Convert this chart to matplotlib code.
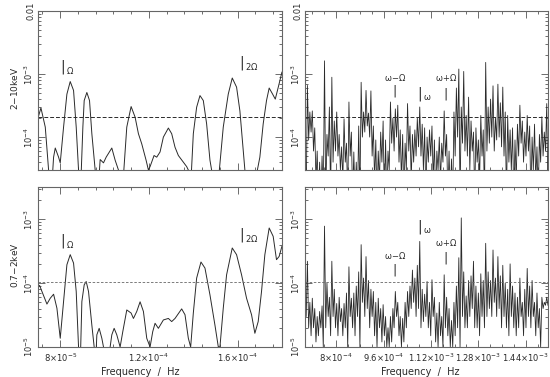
import matplotlib
matplotlib.use('Agg')
import matplotlib.pyplot as plt
import numpy as np
from matplotlib.ticker import FixedLocator, FixedFormatter, MultipleLocator, LogLocator, NullFormatter

# ---- low-frequency panels (smooth power spectra) ----
lo_hard_freq = [7.00, 7.135, 7.33, 7.48, 7.585, 7.705, 7.78, 7.93, 8.005, 8.155,
                8.305, 8.455, 8.605, 8.725, 8.83, 8.905, 9.025, 9.085, 9.205, 9.325,
                9.43, 9.58, 9.685, 9.805, 9.955, 10.075, 10.33, 10.48, 10.63, 10.78,
                11.005, 11.20, 11.38, 11.53, 11.68, 11.875, 11.98, 12.055, 12.235, 12.355,
                12.505, 12.655, 12.88, 13.03, 13.18, 13.33, 13.555, 13.705, 13.78, 13.855,
                14.005, 14.155, 14.305, 14.455, 14.605, 14.755, 14.83, 15.055, 15.355, 15.58,
                15.76, 15.955, 16.105, 16.33, 16.63, 17.005, 17.155, 17.305, 17.425, 17.58,
                17.70, 17.85, 18.0]
lo_hard_pow = [2.0e-4, 2.9e-4, 1.44e-4, 3.0e-5, 1.0e-5, 4.8e-5, 6.7e-5, 4.8e-5, 3.9e-5, 1.44e-4,
               4.8e-4, 7.6e-4, 5.5e-4, 1.44e-4, 3.0e-5, 1.0e-5, 1.44e-4, 3.8e-4, 5.1e-4, 3.8e-4,
               1.13e-4, 3.0e-5, 1.0e-5, 4.4e-5, 3.9e-5, 4.8e-5, 6.7e-5, 4.3e-5, 3.0e-5, 1.0e-5,
               1.44e-4, 3.05e-4, 2.07e-4, 1.13e-4, 7.8e-5, 4.3e-5, 3.0e-5, 3.4e-5, 5.1e-5, 4.8e-5,
               5.8e-5, 1.0e-4, 1.39e-4, 1.13e-4, 6.9e-5, 5.1e-5, 4.0e-5, 3.4e-5, 3.0e-5, 1.0e-5,
               1.13e-4, 2.98e-4, 4.55e-4, 3.8e-4, 1.62e-4, 4.3e-5, 3.0e-5, 1.0e-5, 1.44e-4, 4.8e-4,
               8.65e-4, 6.2e-4, 2.6e-4, 3.0e-5, 1.0e-5, 4.8e-5, 1.62e-4, 3.8e-4, 6.0e-4, 4.8e-4,
               4.0e-4, 6.5e-4, 1.07e-3]

lo_soft_freq = [7.0, 7.075, 7.18, 7.405, 7.555, 7.705, 7.855, 8.005, 8.155, 8.305,
                8.455, 8.605, 8.725, 8.83, 8.905, 8.98, 9.085, 9.175, 9.28, 9.43,
                9.535, 9.595, 9.655, 9.76, 9.88, 9.955, 10.135, 10.33, 10.435, 10.555,
                10.705, 10.825, 11.005, 11.20, 11.305, 11.455, 11.605, 11.755, 11.905, 12.055,
                12.175, 12.28, 12.43, 12.655, 12.88, 13.03, 13.18, 13.48, 13.63, 13.78,
                13.885, 14.005, 14.155, 14.35, 14.53, 14.755, 14.98, 15.13, 15.205, 15.355,
                15.505, 15.76, 15.955, 16.18, 16.405, 16.63, 16.78, 16.93, 17.08, 17.23,
                17.425, 17.605, 17.755, 17.875, 18.0]
lo_soft_pow = [8.55e-5, 9.2e-5, 7.4e-5, 4.7e-5, 5.8e-5, 6.7e-5, 4.05e-5, 1.37e-5, 5.15e-5, 1.94e-4,
               2.79e-4, 2.06e-4, 7.4e-5, 1.0e-5, 5e-6, 5.15e-5, 9.4e-5, 1.06e-4, 7.4e-5, 2.2e-5,
               1.0e-5, 5e-6, 1.55e-5, 1.96e-5, 1.37e-5, 1.0e-5, 5e-6, 1.55e-5, 1.96e-5, 1.55e-5,
               1.0e-5, 1.74e-5, 3.8e-5, 3.4e-5, 2.8e-5, 3.6e-5, 5.1e-5, 3.6e-5, 1.37e-5, 1.0e-5,
               1.74e-5, 2.35e-5, 1.96e-5, 2.65e-5, 2.8e-5, 2.5e-5, 2.8e-5, 3.95e-5, 3.2e-5, 1.37e-5,
               1.0e-5, 3.4e-5, 1.2e-4, 2.14e-4, 1.72e-4, 6.55e-5, 2.2e-5, 1.01e-5, 1.0e-5, 4.05e-5,
               1.35e-4, 3.55e-4, 2.79e-4, 1.35e-4, 5.8e-5, 3.2e-5, 1.64e-5, 2.5e-5, 7.4e-5, 2.79e-4,
               7.3e-4, 5.4e-4, 2.33e-4, 2.62e-4, 3.77e-4]

# ---- high-frequency panels (spiky spectra), peaks and the dips after them ----
hi_hard_peaks = [1.5e-4, 6.6e-4, 2.5e-4, 2.6e-4, 1.4e-4, 6e-5, 4e-5, 5e-5, 1.62e-3, 1.1e-4,
                 3e-4, 8.9e-4, 1.8e-4, 2.5e-4, 1.1e-4, 7e-5, 1.95e-4, 8e-5, 3.6e-4, 1.2e-4,
                 5.8e-5, 4e-5, 1.5e-4, 7.4e-4, 2.5e-4, 5.5e-4, 2.4e-4, 5.4e-4, 1.5e-4, 9e-5,
                 6e-5, 1.2e-4, 1.8e-4, 9e-5, 6e-5, 3.6e-4, 2.0e-4, 2.8e-4, 3.2e-4, 1.3e-4,
                 1.1e-4, 8e-5, 3.4e-4, 1.5e-4, 1.1e-4, 1.3e-4, 2.0e-4, 3.0e-4, 1.6e-4, 1.4e-4,
                 1.0e-4, 1.3e-4, 1.5e-4, 9e-5, 6e-5, 1.0e-4, 8e-5, 2.6e-4, 1.1e-4, 6e-5,
                 4.5e-5, 2.5e-4, 6e-4, 1.2e-3, 3.0e-4, 1.1e-3, 2.2e-4, 4.3e-4, 1.8e-4, 1.2e-4,
                 1.4e-4, 9e-5, 2.2e-4, 1.3e-4, 1.53e-3, 3e-4, 4e-4, 6.5e-4, 2.0e-4, 6.9e-4,
                 3.5e-4, 6.2e-4, 2.5e-4, 2.2e-4, 1.3e-4, 1.4e-4, 9e-5, 1.6e-4, 3.2e-4, 1.8e-4,
                 1.2e-4, 2.2e-4, 1.5e-4, 1.0e-4, 1.6e-4, 7e-5, 1.1e-4, 2.1e-4, 1.2e-4, 3.4e-4]
hi_hard_dips = [1e-5, 9e-5, 1.2e-4, 6e-5, 2e-5, 1e-5, 1e-5, 1e-5, 1e-5, 5e-5,
                1e-5, 4e-5, 6e-5, 5e-5, 3e-5, 2e-5, 4e-5, 1e-5, 5e-5, 1e-5,
                1e-5, 1e-5, 1e-5, 1e-4, 1.2e-4, 1.5e-4, 1e-4, 5e-5, 2e-5, 1e-5,
                2e-5, 4e-5, 1e-5, 1e-5, 3e-5, 8e-5, 6e-5, 1e-4, 4e-5, 2e-5,
                1e-5, 3e-5, 6e-5, 2e-5, 4e-5, 5e-5, 7e-5, 5e-5, 3e-5, 1e-5,
                4e-5, 5e-5, 2e-5, 1e-5, 3e-5, 2e-5, 4e-5, 5e-5, 1e-5, 1e-5,
                1e-5, 5e-5, 1e-4, 1e-5, 8e-5, 6e-5, 5e-5, 3e-5, 6e-5, 1e-5,
                4e-5, 2e-5, 5e-5, 1e-5, 6e-5, 8e-5, 1e-4, 6e-5, 9e-5, 1e-4,
                7e-5, 5e-5, 1e-5, 4e-5, 3e-5, 1e-5, 2e-5, 5e-5, 8e-5, 4e-5,
                5e-5, 6e-5, 1e-5, 3e-5, 2e-5, 1e-5, 4e-5, 5e-5, 6e-5, 1e-5]

hi_soft_peaks = [9e-5, 2.2e-4, 5e-5, 5.8e-5, 4e-5, 3e-5, 3.6e-5, 4.4e-5, 7.8e-4, 1.0e-4,
                 6e-5, 2.2e-4, 8e-5, 4.8e-5, 6e-5, 4e-5, 4.8e-5, 7e-5, 1.8e-4, 5.8e-5,
                 7e-5, 9e-5, 1.5e-4, 4.0e-4, 1.2e-4, 2.6e-4, 1.1e-4, 8e-5, 7.4e-5, 5e-5,
                 5.8e-5, 4e-5, 4.6e-5, 3e-5, 2e-5, 3e-5, 4e-5, 7.4e-5, 5e-5, 3e-5,
                 2.8e-5, 5e-5, 7.4e-5, 9e-5, 1.6e-4, 1.2e-4, 1.9e-4, 4.5e-4, 8e-5, 6.7e-5,
                 1.06e-4, 5e-5, 1.13e-4, 6e-5, 3.4e-5, 5e-5, 3e-5, 1.35e-4, 6e-5, 4e-5,
                 2.6e-5, 5e-5, 9e-5, 2.5e-4, 1.05e-3, 1.5e-4, 6.3e-5, 1.1e-4, 1.3e-4, 2.2e-4,
                 9e-5, 7e-5, 1.4e-4, 1.1e-4, 4.2e-4, 1.5e-4, 1.1e-4, 3.3e-4, 1.2e-4, 2.6e-4,
                 1.3e-4, 1.9e-4, 1.0e-4, 8e-5, 2.0e-4, 9e-5, 7e-5, 6e-5, 1.2e-4, 5e-5,
                 8e-5, 1.7e-4, 9e-5, 1.1e-4, 5e-5, 7e-5, 4e-5, 6e-5, 5e-5, 6e-5]
hi_soft_dips = [3e-5, 2e-5, 1.5e-5, 2e-5, 1.2e-5, 1.5e-5, 2e-5, 1e-5, 2e-5, 3e-5,
                1.5e-5, 3e-5, 2e-5, 1.5e-5, 2.5e-5, 1.5e-5, 2e-5, 1e-5, 3e-5, 2e-5,
                1.5e-5, 3e-5, 1e-5, 5e-5, 3e-5, 4e-5, 2e-5, 3e-5, 1.5e-5, 1e-5,
                2e-5, 1.2e-5, 1.5e-5, 1e-5, 1e-5, 1.2e-5, 2e-5, 3e-5, 1.5e-5, 1e-5,
                1.2e-5, 2e-5, 3e-5, 4e-5, 5e-5, 3e-5, 4e-5, 2e-5, 2.5e-5, 3e-5,
                2e-5, 1.5e-5, 3e-5, 1.2e-5, 1e-5, 1.5e-5, 1e-5, 2e-5, 1.5e-5, 1e-5,
                1e-5, 1.5e-5, 2e-5, 1e-5, 3e-5, 2e-5, 2e-5, 3e-5, 4e-5, 2e-5,
                2e-5, 1.5e-5, 3e-5, 2e-5, 3e-5, 4e-5, 3e-5, 5e-5, 3e-5, 4e-5,
                2e-5, 3e-5, 2e-5, 1.5e-5, 3e-5, 2e-5, 1.5e-5, 2e-5, 3e-5, 1.5e-5,
                2e-5, 3e-5, 2e-5, 3e-5, 1.5e-5, 2e-5, 1e-5, 4e-5, 4.5e-5, 4.5e-5]

hard_level = 2.1e-4
soft_level = 1.05e-4

lo_ticks = [8e-5, 1.2e-4, 1.6e-4]
lo_tick_labels = [r'8$\times$10$^{-5}$', r'1.2$\times$10$^{-4}$', r'1.6$\times$10$^{-4}$']
hi_ticks = [8e-4, 9.6e-4, 1.12e-3, 1.28e-3, 1.44e-3]
hi_tick_labels = [r'8$\times$10$^{-4}$', r'9.6$\times$10$^{-4}$', r'1.12$\times$10$^{-3}$',
                  r'1.28$\times$10$^{-3}$', r'1.44$\times$10$^{-3}$']
hard_yticks = [1e-4, 1e-3, 1e-2]
hard_ylabels = [r'10$^{-4}$', r'10$^{-3}$', '0.01']
soft_yticks = [1e-5, 1e-4, 1e-3]
soft_ylabels = [r'10$^{-5}$', r'10$^{-4}$', r'10$^{-3}$']

INK = '#2a2a2a'
plt.rcParams['font.family'] = 'DejaVu Sans'
plt.rcParams['mathtext.default'] = 'regular'


def interleave(peaks, dips):
    out = np.empty(2 * len(peaks))
    out[0::2] = peaks
    out[1::2] = dips
    return out


def style(ax, xlim, ylim, xticks, xlabels, minor_x, yticks, ylabels, show_x):
    ax.set_xscale('linear')
    ax.set_yscale('log')
    ax.set_xlim(*xlim)
    ax.set_ylim(*ylim)
    ax.xaxis.set_major_locator(FixedLocator(xticks))
    ax.xaxis.set_minor_locator(MultipleLocator(minor_x))
    if show_x:
        ax.xaxis.set_major_formatter(FixedFormatter(xlabels))
    else:
        ax.xaxis.set_major_formatter(NullFormatter())
    ax.yaxis.set_major_locator(FixedLocator(yticks))
    ax.yaxis.set_major_formatter(FixedFormatter(ylabels))
    ax.yaxis.set_minor_locator(LogLocator(base=10, subs=np.arange(2, 10)))
    ax.yaxis.set_minor_formatter(NullFormatter())
    ax.tick_params(which='both', direction='in', top=True, right=True, colors='#555',
                   labelcolor=INK, labelsize=6, width=0.6)
    ax.tick_params(which='major', length=5)
    ax.tick_params(which='minor', length=2.5)
    ax.tick_params(axis='x', pad=3)
    ax.tick_params(axis='y', pad=2)
    for lbl in ax.get_yticklabels():
        lbl.set_rotation(90)
        lbl.set_va('center')
    for sp in ax.spines.values():
        sp.set_color('#666')
        sp.set_linewidth(0.8)


def mark(ax, x, y, sub, bar_dx=0.0, fs=6):
    # vertical bar with a small label at its foot, like "|Ω"
    ax.text(x, y, '|', transform=ax.transAxes, ha='center', va='center',
            fontsize=10, color=INK)
    ax.text(x + 0.012 + bar_dx, y - 0.025, sub, transform=ax.transAxes, ha='left',
            va='center', fontsize=fs, color=INK)


def tag_above(ax, x, y_text, y_bar, label):
    ax.text(x, y_text, label, transform=ax.transAxes, ha='center', va='center',
            fontsize=6, color=INK)
    ax.text(x, y_bar, '|', transform=ax.transAxes, ha='center', va='center',
            fontsize=9, color=INK)


fig = plt.figure(figsize=(5.5, 3.77), dpi=100)
ax_lh = fig.add_axes([0.069, 0.549, 0.4436, 0.4218])
ax_hh = fig.add_axes([0.5545, 0.549, 0.4418, 0.4218])
ax_ls = fig.add_axes([0.069, 0.0796, 0.4436, 0.4244])
ax_hs = fig.add_axes([0.5545, 0.0796, 0.4418, 0.4244])

lo_lim = (7.0e-5, 1.8e-4)
hi_lim = (6.95e-4, 1.515e-3)

ax_lh.plot(np.array(lo_hard_freq) * 1e-5, lo_hard_pow, color=INK, lw=0.7)
ax_ls.plot(np.array(lo_soft_freq) * 1e-5, lo_soft_pow, color=INK, lw=0.7)

hi_freq = np.linspace(hi_lim[0], hi_lim[1], 2 * len(hi_hard_peaks))
ax_hh.plot(hi_freq, interleave(hi_hard_peaks, hi_hard_dips), color=INK, lw=0.6)
ax_hs.plot(hi_freq, interleave(hi_soft_peaks, hi_soft_dips), color=INK, lw=0.6)

for ax in (ax_lh, ax_hh):
    ax.axhline(hard_level, color=INK, lw=0.7, ls=(0, (4, 2)))
for ax in (ax_ls, ax_hs):
    ax.axhline(soft_level, color='#666', lw=0.6, ls=(0, (3, 2)))

style(ax_lh, lo_lim, (3e-5, 1e-2), lo_ticks, lo_tick_labels, 8e-6, hard_yticks, hard_ylabels, False)
style(ax_hh, hi_lim, (3e-5, 1e-2), hi_ticks, hi_tick_labels, 4e-5, hard_yticks, hard_ylabels, False)
style(ax_ls, lo_lim, (1e-5, 3.2e-3), lo_ticks, lo_tick_labels, 8e-6, soft_yticks, soft_ylabels, True)
style(ax_hs, hi_lim, (1e-5, 3.2e-3), hi_ticks, hi_tick_labels, 4e-5, soft_yticks, soft_ylabels, True)

# harmonic markers
mark(ax_lh, 0.101, 0.648, r'$\Omega$')
mark(ax_lh, 0.836, 0.673, r'2$\Omega$')
mark(ax_ls, 0.101, 0.6625, r'$\Omega$')
mark(ax_ls, 0.836, 0.70, r'2$\Omega$')

tag_above(ax_hh, 0.370, 0.579, 0.497, r'$\omega$$-$$\Omega$')
mark(ax_hh, 0.473, 0.478, r'$\omega$')
tag_above(ax_hh, 0.579, 0.579, 0.478, r'$\omega$+$\Omega$')
tag_above(ax_hs, 0.370, 0.569, 0.48, r'$\omega$$-$$\Omega$')
mark(ax_hs, 0.473, 0.75, r'$\omega$')
tag_above(ax_hs, 0.579, 0.656, 0.556, r'$\omega$+$\Omega$')

fig.text(0.027, 0.767, '2$-$10keV', rotation=90, ha='center', va='center', fontsize=6.5, color=INK)
fig.text(0.027, 0.297, '0.7$-$2keV', rotation=90, ha='center', va='center', fontsize=6.5, color=INK)
fig.text(0.255, 0.013, 'Frequency  /  Hz', ha='center', va='center', fontsize=7, color=INK)
fig.text(0.764, 0.013, 'Frequency  /  Hz', ha='center', va='center', fontsize=7, color=INK)

fig.savefig('out.png', dpi=100)
